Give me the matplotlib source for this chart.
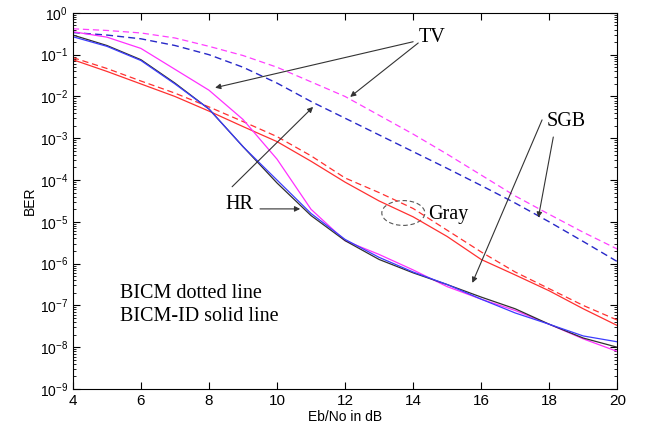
import numpy as np
import matplotlib.pyplot as plt
from matplotlib.patches import Ellipse
from matplotlib.ticker import FixedLocator, LogLocator, NullFormatter

plt.rcParams['font.family'] = ['Liberation Sans', 'DejaVu Sans']
plt.rcParams['mathtext.fontset'] = 'custom'
plt.rcParams['mathtext.rm'] = 'Liberation Sans'
plt.rcParams['mathtext.default'] = 'regular'

# Eb/No grid (dB) and log10(BER) for each mapping
ebno = [4, 5, 6, 7, 8, 9, 10, 11, 12, 13, 14, 15, 16, 17, 18, 19, 20]

tv_bicm = [-0.38, -0.42, -0.48, -0.6, -0.8, -1.02, -1.3, -1.65, -2.0, -2.45,
           -2.9, -3.38, -3.88, -4.38, -4.82, -5.25, -5.65]
sgb_bicm = [-0.47, -0.53, -0.62, -0.78, -1.0, -1.3, -1.68, -2.12, -2.52, -2.92,
            -3.32, -3.72, -4.13, -4.55, -5.0, -5.47, -5.95]
gray_bicm = [-1.07, -1.33, -1.63, -1.92, -2.25, -2.6, -2.96, -3.42, -3.95, -4.3,
             -4.68, -5.2, -5.72, -6.2, -6.6, -7.0, -7.35]
gray_id = [-1.12, -1.4, -1.7, -2.0, -2.35, -2.72, -3.08, -3.55, -4.05, -4.5,
           -4.88, -5.35, -5.9, -6.27, -6.65, -7.08, -7.48]
tv_id = [-0.45, -0.58, -0.85, -1.35, -1.85, -2.55, -3.5, -4.7, -5.45, -5.78,
         -6.15, -6.55, -6.85, -7.12, -7.45, -7.8, -8.1]
hr_id = [-0.53, -0.78, -1.12, -1.68, -2.3, -3.2, -4.07, -4.85, -5.45, -5.9,
         -6.22, -6.5, -6.8, -7.08, -7.45, -7.78, -8.0]
sgb_id = [-0.57, -0.8, -1.14, -1.7, -2.3, -3.2, -4.0, -4.8, -5.42, -5.85,
          -6.2, -6.5, -6.85, -7.18, -7.45, -7.73, -7.87]

x_ticks = [4, 6, 8, 10, 12, 14, 16, 18, 20]
y_exps = [0, -1, -2, -3, -4, -5, -6, -7, -8, -9]

ber = lambda v: 10.0 ** np.array(v)

fig = plt.figure(figsize=(6.45, 4.3), dpi=100)
ax = fig.add_axes([0.113, 0.0953, 0.844, 0.8747])

dash = (0, (5, 3))
ax.semilogy(ebno, ber(tv_bicm), color='#ff40ff', lw=0.9, linestyle=dash)
ax.semilogy(ebno, ber(sgb_bicm), color='#2828c8', lw=1.0, linestyle=dash)
ax.semilogy(ebno, ber(gray_bicm), color='#ff3030', lw=0.9, linestyle=dash)
ax.semilogy(ebno, ber(gray_id), color='#ff3030', lw=0.9)
ax.semilogy(ebno, ber(tv_id), color='#ff30ff', lw=0.9)
ax.semilogy(ebno, ber(hr_id), color='#303030', lw=0.9)
ax.semilogy(ebno, ber(sgb_id), color='#3c3cff', lw=0.9)

ax.set_xlim(4, 20)
ax.set_ylim(1e-9, 1)
ax.set_xticks(x_ticks)
ax.yaxis.set_major_locator(FixedLocator([10.0 ** e for e in y_exps]))
ax.set_yticklabels(['$10^{%d}$' % e for e in y_exps], fontsize=10)
ax.yaxis.set_minor_locator(LogLocator(base=10, subs=np.arange(2, 10)))
ax.yaxis.set_minor_formatter(NullFormatter())
ax.tick_params(axis='x', labelsize=11)
ax.tick_params(which='both', direction='in', top=True, right=True)
ax.tick_params(which='major', length=5)
ax.tick_params(which='minor', length=2.5)
ax.set_xlabel('Eb/No in dB', fontsize=10)
ax.set_ylabel('BER', fontsize=10)
ax.xaxis.set_label_coords(0.5, -0.055)
ax.yaxis.set_label_coords(-0.066, 0.5)

serif = ['Liberation Serif', 'DejaVu Serif']
arrow = dict(arrowstyle='-|>', color='#333333', lw=0.8, mutation_scale=8,
             shrinkA=0, shrinkB=0)

ax.text(14.55, 10 ** -0.6, 'TV', family=serif, fontsize=14.5, va='center', ha='center')
ax.annotate('', xy=(8.18, 10 ** -1.79), xytext=(14.0, 10 ** -0.69), arrowprops=arrow)
ax.annotate('', xy=(12.15, 10 ** -2.01), xytext=(14.15, 10 ** -0.72), arrowprops=arrow)

ax.text(8.9, 10 ** -4.59, 'HR', family=serif, fontsize=14.5, va='center', ha='center')
ax.annotate('', xy=(11.06, 10 ** -2.25), xytext=(8.68, 10 ** -4.16), arrowprops=arrow)
ax.annotate('', xy=(10.68, 10 ** -4.69), xytext=(9.5, 10 ** -4.69), arrowprops=arrow)

ax.text(18.5, 10 ** -2.61, 'SGB', family=serif, fontsize=14.5, va='center', ha='center')
ax.annotate('', xy=(15.74, 10 ** -6.46), xytext=(17.79, 10 ** -2.56), arrowprops=arrow)
ax.annotate('', xy=(17.68, 10 ** -4.9), xytext=(18.12, 10 ** -2.97), arrowprops=arrow)

ax.text(14.45, 10 ** -4.83, 'Gray', family=serif, fontsize=14.5, va='center', ha='left')
ax.add_patch(Ellipse((0.607, 0.468), 0.079, 0.066, transform=ax.transAxes,
                     fill=False, edgecolor='#555555', lw=0.8, linestyle=(0, (4, 2.5))))

ax.text(0.086, 0.255, 'BICM dotted line', transform=ax.transAxes, family=serif,
        fontsize=14.5, va='center')
ax.text(0.086, 0.194, 'BICM-ID solid line', transform=ax.transAxes, family=serif,
        fontsize=14.5, va='center')

fig.savefig('out.png', dpi=100)
